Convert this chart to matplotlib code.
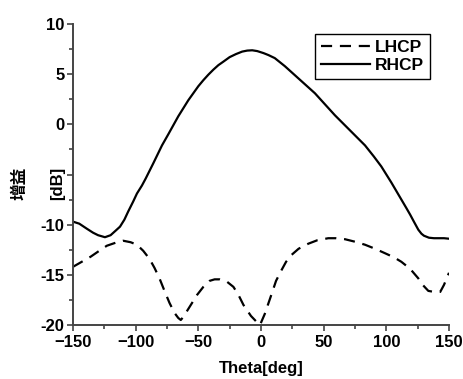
import numpy as np
import matplotlib
matplotlib.use('Agg')
import matplotlib.pyplot as plt
from matplotlib.ticker import MultipleLocator

plt.rcParams['font.family'] = ['Liberation Sans', 'Noto Sans CJK SC', 'DejaVu Sans']
plt.rcParams['font.weight'] = 'bold'
plt.rcParams['font.size'] = 12

# RHCP (solid)
rhcp_theta = [-150, -145, -139, -134, -130, -124.5, -120, -116, -112.5, -109, -106, -102,
              -99, -95, -92, -86, -79, -74, -70, -66, -62, -58, -54, -50, -46, -42, -38,
              -34, -30, -25, -20, -15, -11, -7, -3, 2, 6, 11, 15, 19, 23, 27, 31, 35, 39,
              43, 47, 51, 55, 59, 65, 71, 77, 83, 90, 96, 100, 104, 108, 112, 116, 119,
              122, 125.5, 128, 130, 134, 138, 142, 146, 150]
rhcp_gain = [-9.7, -9.9, -10.4, -10.8, -11.05, -11.25, -11.05, -10.6, -10.2, -9.5, -8.7, -7.7,
             -6.9, -6.1, -5.4, -3.9, -2.1, -1.0, -0.1, 0.8, 1.6, 2.4, 3.1, 3.8, 4.4, 4.95, 5.45,
             5.9, 6.25, 6.7, 7.0, 7.25, 7.35, 7.38, 7.3, 7.1, 6.9, 6.6, 6.2, 5.8, 5.35, 4.9,
             4.45, 4.0, 3.55, 3.1, 2.55, 2.0, 1.45, 0.9, 0.15, -0.6, -1.35, -2.1, -3.2, -4.2,
             -5.0, -5.8, -6.65, -7.5, -8.35, -9.0, -9.7, -10.5, -10.9, -11.1, -11.3, -11.35,
             -11.35, -11.35, -11.4]

# LHCP (dashed)
lhcp_theta = [-150, -143, -136, -129, -123, -116, -110, -104, -99, -94, -89, -85, -81, -77,
              -73, -69, -66, -64, -62, -57, -51, -46, -41, -37, -33, -27, -22, -18, -14, -8,
              -3.4, -0.8, 3, 8.5, 12, 16.5, 20, 24.5, 30, 37.7, 45, 53.7, 60, 67, 75, 83, 91,
              99, 106, 112, 119, 125.5, 129, 133.5, 138, 143, 146, 150]
lhcp_gain = [-14.2, -13.7, -13.2, -12.6, -12.1, -11.8, -11.6, -11.75, -12.0, -12.6, -13.4,
             -14.3, -15.35, -16.6, -17.8, -18.8, -19.3, -19.5, -19.2, -18.2, -17.0, -16.2,
             -15.6, -15.45, -15.45, -15.7, -16.2, -17.0, -18.0, -19.1, -19.7, -20.0, -18.9,
             -16.9, -15.6, -14.5, -13.7, -13.0, -12.4, -11.9, -11.55, -11.35, -11.35, -11.45,
             -11.7, -12.0, -12.4, -12.85, -13.25, -13.7, -14.4, -15.35, -16.0, -16.6, -16.7,
             -16.7, -16.0, -14.8]

xticks = [-150, -100, -50, 0, 50, 100, 150]
yticks = [-20, -15, -10, -5, 0, 5, 10]
ytick_labels = ['-20', '-15', '-10', '', '0', '5', '10']

fig = plt.figure(figsize=(4.63, 3.79), dpi=100)
ax = fig.add_axes([73/463, 1-325/379, (449-73)/463, (325-24)/379])

ax.plot(lhcp_theta, lhcp_gain, color='black', lw=1.6, linestyle=(0, (5, 3.5)), label='LHCP')
ax.plot(rhcp_theta, rhcp_gain, color='black', lw=1.6, label='RHCP')

ax.set_xlim(-150, 150)
ax.set_ylim(-20, 10)
ax.set_xticks(xticks)
ax.set_yticks(yticks)
ax.set_yticklabels(ytick_labels)
ax.xaxis.set_minor_locator(MultipleLocator(25))
ax.yaxis.set_minor_locator(MultipleLocator(2.5))
ax.tick_params(which='major', direction='out', length=4, width=1.2, color='#444444', pad=2)
ax.tick_params(which='minor', direction='out', length=3, width=1.2, color='#444444')
ax.tick_params(axis='x', pad=3)

for s in ['top', 'right']:
    ax.spines[s].set_visible(False)
for s in ['left', 'bottom']:
    ax.spines[s].set_linewidth(1.4)
    ax.spines[s].set_color('#444444')

fig.text(0.5*(73+449)/463, 1-368/379, 'Theta[deg]', ha='center', va='center', fontsize=12, fontweight='bold')
fig.text(20/463, 1-183/379, '增益', rotation=90, ha='center', va='center', fontsize=12, fontweight='bold')
fig.text(58/463, 1-183/379, '[dB]', rotation=90, ha='center', va='center', fontsize=12, fontweight='bold')

leg = ax.legend(loc='upper right', bbox_to_anchor=(430/463, 1-34/379), bbox_transform=fig.transFigure,
                borderaxespad=0, fancybox=False, edgecolor='black', framealpha=1,
                handlelength=2.8, handletextpad=0.3, labelspacing=0.15, borderpad=0.35,
                prop={'weight': 'bold', 'size': 12.5})
leg.get_frame().set_linewidth(1.0)

fig.savefig('out.png', dpi=100)
